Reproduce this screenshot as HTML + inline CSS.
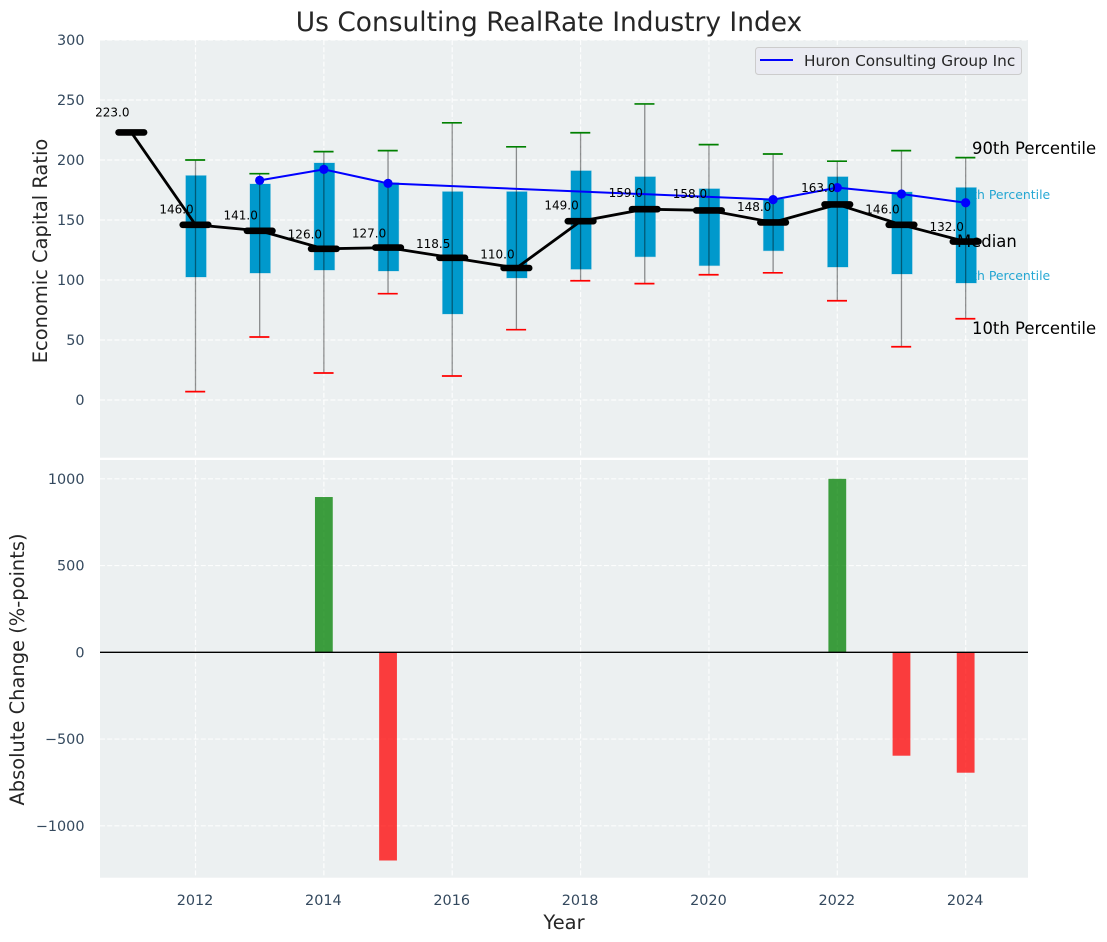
<!DOCTYPE html>
<html>
<head>
<meta charset="utf-8">
<style>
html,body{margin:0;padding:0;background:#fff;width:1107px;height:942px;overflow:hidden}
svg{display:block;font-family:"DejaVu Sans","Liberation Sans",sans-serif}
</style>
</head>
<body>
<svg id="chart" width="1107" height="942" viewBox="0 0 1107 942">
  <rect x="0" y="0" width="1107" height="942" fill="#ffffff"/>
  <rect x="100" y="40" width="928" height="417.7" fill="#ecf0f1"/>
  <rect x="100" y="460" width="928" height="417.7" fill="#ecf0f1"/>
  <g id="grid"></g>
  <g id="ticks"></g>
  <text x="972" y="154" font-size="16.45" fill="#000">90th Percentile</text>
  <text x="972" y="334" font-size="16.45" fill="#000">10th Percentile</text>
  <text x="956.3" y="199" font-size="12.45" fill="#0099cc" fill-opacity="0.85">75th Percentile</text>
  <text x="956.3" y="280" font-size="12.45" fill="#0099cc" fill-opacity="0.85">25th Percentile</text>
  <g id="boxes"></g>
  <g id="whiskers"></g>
  <text x="957" y="247" font-size="16.45" fill="#000">Median</text>
  <g id="company"></g>
  <g id="median"></g>
  <g id="values"></g>
  <g id="bars"></g>
  <g id="zero-line"></g>
  <text x="549" y="31" font-size="26.45" fill="#262626" text-anchor="middle">Us Consulting RealRate Industry Index</text>
  <text x="47" y="251" font-size="19.45" fill="#262626" text-anchor="middle" transform="rotate(-90 47 251)">Economic Capital Ratio</text>
  <text x="24" y="669.5" font-size="19.45" fill="#262626" text-anchor="middle" transform="rotate(-90 24 669.5)">Absolute Change (%-points)</text>
  <text x="564" y="929" font-size="19.45" fill="#262626" text-anchor="middle">Year</text>
  <g>
    <rect x="755.5" y="47.5" width="266" height="27" rx="3" ry="3" fill="#eaeaf2" fill-opacity="0.9" stroke="#cccccc"/>
    <line x1="760" y1="60" x2="793" y2="60" stroke="#0000ff" stroke-width="2"/>
    <text x="804" y="66" font-size="15.3" fill="#262626">Huron Consulting Group Inc</text>
  </g>
</svg>
<script>
const medianYears = [2011,2012,2013,2014,2015,2016,2017,2018,2019,2020,2021,2022,2023,2024];
const medianValues = [223,146,141,126,127,118.5,110,149,159,158,148,163,146,132];
const boxYears = [2012,2013,2014,2015,2016,2017,2018,2019,2020,2021,2022,2023,2024];
const p90Values = [200,188.6,207,207.8,231,211,222.7,246.7,212.8,205,199,207.8,202];
const p75Values = [187,180,197.5,181,173.6,173.6,191,186,176,167.5,186,173.3,177];
const p25Values = [102.5,105.8,108.3,107.5,71.7,101.7,109,119.4,112,124.4,110.8,105,97.5];
const p10Values = [7,52.5,22.5,88.6,20,58.6,99.4,97,104.4,106,82.7,44.4,67.7];
const companyYears = [2013,2014,2015,2021,2022,2023,2024];
const companyValues = [183,192.2,180.5,167,177,171.7,164.4];
const changeYears = [2014,2015,2022,2023,2024];
const changeValues = [895,-1200,1000,-596,-694];
const xTickLabels = [2012,2014,2016,2018,2020,2022,2024];
const topYTicks = [0,50,100,150,200,250,300];
const bottomYTicks = [-1000,-500,0,500,1000];

const NS = 'http://www.w3.org/2000/svg';
const xScale = v => 195.5 + (v - 2012) * 64.18;
const yTop = v => 400 - v * 1.2;
const yBottom = v => 652.3 - v * 0.1735;

function make(parentId, tag, attrs, text) {
  const el = document.createElementNS(NS, tag);
  for (const k in attrs) el.setAttribute(k, attrs[k]);
  if (text !== undefined) el.textContent = text;
  document.getElementById(parentId).appendChild(el);
  return el;
}
const gridStyle = {stroke:'#ffffff','stroke-width':1.2,'stroke-dasharray':'5 2.2','stroke-opacity':0.85};

topYTicks.forEach(t => {
  const el = make('grid','line',Object.assign({x1:100,x2:1028,y1:yTop(t),y2:yTop(t)},gridStyle));
  
  
  const lab = make('ticks','text',{x:84.5,y:yTop(t)+5,'font-size':14.4,fill:'#34495e','text-anchor':'end'},String(t));
  
  
});
bottomYTicks.forEach(t => {
  const el = make('grid','line',Object.assign({x1:100,x2:1028,y1:yBottom(t),y2:yBottom(t)},gridStyle));
  
  
  const lab = make('ticks','text',{x:84.5,y:yBottom(t)+5,'font-size':14.4,fill:'#34495e','text-anchor':'end'},String(t).replace('-','\u2212'));
  
  
});
xTickLabels.forEach(t => {
  const a = make('grid','line',Object.assign({x1:xScale(t),x2:xScale(t),y1:40,y2:457.7},gridStyle));
  
  
  const b = make('grid','line',Object.assign({x1:xScale(t),x2:xScale(t),y1:460,y2:877.7},gridStyle));
  
  
  const lab = make('ticks','text',{x:xScale(t)-0.5,y:905,'font-size':14.4,fill:'#34495e','text-anchor':'middle'},String(t));
  
  
});

boxYears.forEach((yr,i) => {
  const x = xScale(yr);
  const box = make('boxes','rect',{x:x-9.7,y:yTop(p75Values[i]),width:20.4,height:yTop(p25Values[i])-yTop(p75Values[i]),fill:'#0099cc',stroke:'#0099cc','stroke-opacity':0.25,'stroke-width':1});
  
  
  const w = make('whiskers','line',{x1:x,x2:x,y1:yTop(p90Values[i]),y2:yTop(p10Values[i]),stroke:'#000000','stroke-opacity':0.42,'stroke-width':1.3});
  
  
  const hi = make('whiskers','line',{x1:x-10.3,x2:x+9.7,y1:yTop(p90Values[i]),y2:yTop(p90Values[i]),stroke:'#008000','stroke-width':1.7});
  
  
  const lo = make('whiskers','line',{x1:x-10.3,x2:x+9.7,y1:yTop(p10Values[i]),y2:yTop(p10Values[i]),stroke:'#ff0000','stroke-width':1.7});
  
  
});

const companyPath = make('company','polyline',{points:companyYears.map((yr,i)=>xScale(yr)+','+yTop(companyValues[i])).join(' '),fill:'none',stroke:'#0000ff','stroke-width':2});


companyYears.forEach((yr,i) => {
  const c = make('company','circle',{cx:xScale(yr),cy:yTop(companyValues[i]),r:4.6,fill:'#0000ff'});
  
  
});

const medianPath = make('median','polyline',{points:medianYears.map((yr,i)=>xScale(yr)+','+yTop(medianValues[i])).join(' '),fill:'none',stroke:'#000000','stroke-width':2.8});


medianYears.forEach((yr,i) => {
  const x = xScale(yr), y = yTop(medianValues[i]);
  const m = make('median','line',{x1:x-12.8,x2:x+12.8,y1:y,y2:y,stroke:'#000000','stroke-width':6.6,'stroke-linecap':'round'});
  
  
  const t = make('values','text',{x:x-19,y:yTop(medianValues[i]*1.05)-2.7,'font-size':12,fill:'#000000','text-anchor':'middle'},medianValues[i].toFixed(1));
  
  
});

changeYears.forEach((yr,i) => {
  const v = changeValues[i];
  const y0 = yBottom(Math.max(v,0)), y1 = yBottom(Math.min(v,0));
  const b = make('bars','rect',{x:xScale(yr)-8.9,y:y0,width:17.8,height:y1-y0,fill:v>=0?'#008000':'#ff0000','fill-opacity':0.75});
  
  
});
const zero = make('zero-line','line',{x1:100,x2:1028,y1:yBottom(0),y2:yBottom(0),stroke:'#000000','stroke-width':1.3});


</script>
</body>
</html>
